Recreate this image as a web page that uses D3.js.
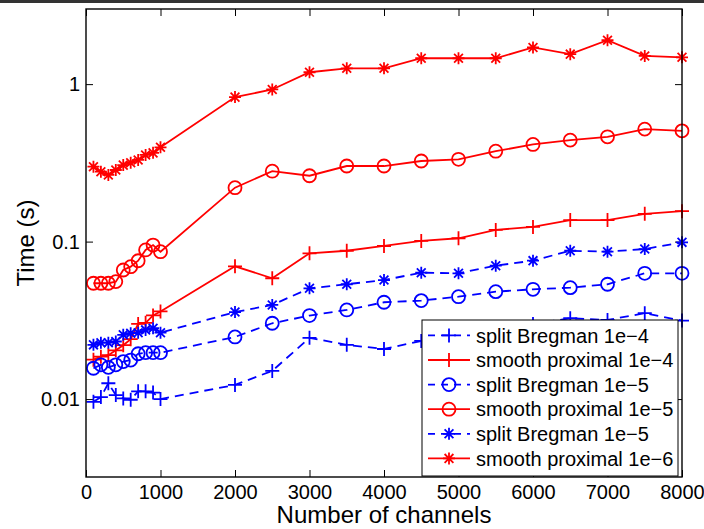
<!DOCTYPE html>
<html><head><meta charset="utf-8">
<script src="https://cdn.jsdelivr.net/npm/d3@7"></script>
<style>body{margin:0;background:#fff}svg{display:block}text{font-family:"Liberation Sans",Arial,Helvetica,sans-serif}</style>
</head><body>
<svg id="c" width="704" height="529"></svg>
<script>
const channels = [100,200,300,400,500,600,700,800,900,1000,2000,2500,3000,3500,4000,4500,5000,5500,6000,6500,7000,7500,8000];
const splitBregman1e4 = [0.0096,0.0103,0.0126,0.0106,0.0101,0.0099,0.0112,0.0112,0.0110,0.0100,0.0123,0.0151,0.0245,0.0221,0.0208,0.0234,0.025,0.027,0.030,0.0326,0.0318,0.0351,0.0315];
const smoothProximal1e4 = [0.0178,0.0186,0.0190,0.0204,0.0220,0.0240,0.0300,0.0305,0.0340,0.0360,0.0697,0.0585,0.0843,0.0875,0.0938,0.101,0.105,0.1186,0.124,0.137,0.137,0.150,0.156];
const splitBregman1e5 = [0.0157,0.0165,0.0159,0.0165,0.0173,0.0177,0.0194,0.0197,0.0197,0.0197,0.0248,0.0303,0.0339,0.0368,0.0412,0.0422,0.0447,0.0481,0.0498,0.0510,0.0536,0.0629,0.0629];
const smoothProximal1e5 = [0.0544,0.0544,0.0544,0.0557,0.0660,0.0693,0.0756,0.0885,0.0951,0.0863,0.220,0.280,0.262,0.302,0.302,0.325,0.333,0.375,0.414,0.441,0.463,0.518,0.505];
const splitBregman1e5b = [0.0221,0.0228,0.0228,0.0232,0.0256,0.0262,0.0264,0.0275,0.0282,0.0264,0.0357,0.0396,0.0505,0.0536,0.0570,0.0635,0.0629,0.0703,0.0757,0.0875,0.0863,0.0897,0.0989];
const smoothProximal1e6 = [0.299,0.278,0.265,0.285,0.306,0.317,0.330,0.355,0.366,0.397,0.827,0.925,1.19,1.26,1.26,1.46,1.46,1.46,1.71,1.55,1.90,1.51,1.48];
const seriesNames = ["split Bregman 1e\u22124","smooth proximal 1e\u22124","split Bregman 1e\u22125","smooth proximal 1e\u22125","split Bregman 1e\u22125","smooth proximal 1e\u22126"];
const xTicks = [0,1000,2000,3000,4000,5000,6000,7000,8000];
const yTicks = [0.01,0.1,1];
const yTickLabels = ["0.01","0.1","1"];

const series = [
  {name:seriesNames[0], values:splitBregman1e4, color:"#0000ff", dash:"9,6", marker:"plus"},
  {name:seriesNames[1], values:smoothProximal1e4, color:"#ff0000", dash:null, marker:"plus"},
  {name:seriesNames[2], values:splitBregman1e5, color:"#0000ff", dash:"9,6", marker:"circle"},
  {name:seriesNames[3], values:smoothProximal1e5, color:"#ff0000", dash:null, marker:"circle"},
  {name:seriesNames[4], values:splitBregman1e5b, color:"#0000ff", dash:"9,6", marker:"star"},
  {name:seriesNames[5], values:smoothProximal1e6, color:"#ff0000", dash:null, marker:"star"}
];

const L=86,R=682,T=9,B=477;
const svg = d3.select("#c");
svg.append("rect").attr("x",0).attr("y",0).attr("width",704).attr("height",3).attr("fill","#333");

const x = d3.scaleLinear().domain([0,8000]).range([L,R]);
const y = d3.scaleLog().domain([0.0032,3]).range([B,T]);

function styleAxis(g){
  g.select(".domain").remove();
  g.selectAll(".tick line").attr("stroke","#000").attr("stroke-width",1);
  g.selectAll(".tick text").attr("fill","#000").style("font-size","20px");
}
svg.append("g").attr("transform",`translate(0,${B})`)
  .call(d3.axisBottom(x).tickValues(xTicks).tickFormat(d3.format("d")).tickSizeInner(-7).tickSizeOuter(0).tickPadding(8))
  .call(styleAxis);
svg.append("g").attr("transform",`translate(0,${T})`)
  .call(d3.axisTop(x).tickValues(xTicks).tickFormat("").tickSizeInner(-7).tickSizeOuter(0))
  .call(styleAxis);
svg.append("g").attr("transform",`translate(${L},0)`)
  .call(d3.axisLeft(y).tickValues(yTicks).tickFormat((d,i)=>yTickLabels[i]).tickSizeInner(-7).tickSizeOuter(0).tickPadding(6))
  .call(styleAxis);
svg.append("g").attr("transform",`translate(${R},0)`)
  .call(d3.axisRight(y).tickValues(yTicks).tickFormat("").tickSizeInner(-7).tickSizeOuter(0))
  .call(styleAxis);

function markerPath(type){
  if(type==="plus"){const a=7;return `M${-a},0H${a}M0,${-a}V${a}`;}
  if(type==="star"){const a=6,b=4.4;return `M${-a},0H${a}M0,${-a}V${a}M${-b},${-b}L${b},${b}M${-b},${b}L${b},${-b}`;}
  const r=6.5;return `M${r},0A${r},${r} 0 1,1 ${-r},0A${r},${r} 0 1,1 ${r},0Z`;
}

const line = d3.line().x((d,i)=>x(channels[i])).y(d=>y(d));
series.forEach(s=>{
  const g = svg.append("g");
  g.append("path").attr("d",line(s.values)).attr("fill","none").attr("stroke",s.color)
    .attr("stroke-width",1.8).attr("stroke-dasharray",s.dash);
  g.selectAll("path.m").data(s.values).enter().append("path").attr("class","m")
    .attr("transform",(d,i)=>`translate(${x(channels[i])},${y(d)})`)
    .attr("d",markerPath(s.marker)).attr("fill","none").attr("stroke",s.color).attr("stroke-width",1.8);
});

// axes box
svg.append("rect").attr("x",L).attr("y",T).attr("width",R-L).attr("height",B-T)
  .attr("fill","none").attr("stroke","#000").attr("stroke-width",1.4);

// legend
const lg = svg.append("g");
lg.append("rect").attr("x",422).attr("y",320).attr("width",256).attr("height",156)
  .attr("fill","#fff").attr("stroke","#000").attr("stroke-width",1);
series.forEach((s,i)=>{
  const yy = 335.4 + i*24.6;
  lg.append("line").attr("x1",428).attr("x2",470).attr("y1",yy).attr("y2",yy)
    .attr("stroke",s.color).attr("stroke-width",1.8).attr("stroke-dasharray",s.dash?"7,6":null);
  lg.append("path").attr("transform",`translate(449,${yy})`).attr("d",markerPath(s.marker))
    .attr("fill","none").attr("stroke",s.color).attr("stroke-width",1.8);
  lg.append("text").attr("x",476).attr("y",yy).attr("dy","0.36em").style("font-size","20px").text(s.name);
});

svg.append("text").attr("transform","translate(34,243) rotate(-90)").attr("text-anchor","middle")
  .style("font-size","24px").text("Time (s)");
svg.append("text").attr("x",(L+R)/2).attr("y",523).attr("text-anchor","middle")
  .style("font-size","24px").text("Number of channels");
</script>
</body></html>
